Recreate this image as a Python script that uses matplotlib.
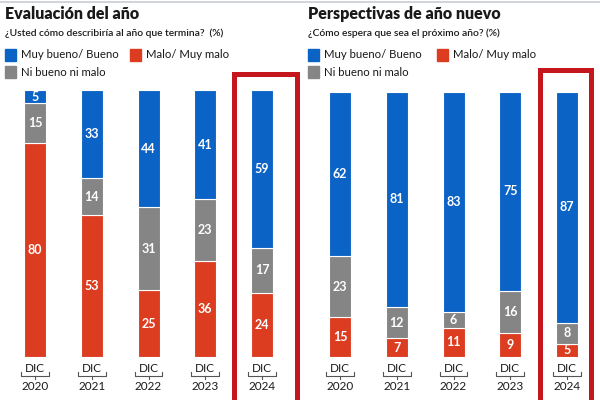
import matplotlib.pyplot as plt
import matplotlib.transforms as mtransforms
from matplotlib.patches import Rectangle

plt.rcParams['font.family'] = ['Lato', 'DejaVu Sans']

# Data
years = ['2020', '2021', '2022', '2023', '2024']
eval_bueno = [5, 33, 44, 41, 59]
eval_ni = [15, 14, 31, 23, 17]
eval_malo = [80, 53, 25, 36, 24]
persp_bueno = [62, 81, 83, 75, 87]
persp_ni = [23, 12, 6, 16, 8]
persp_malo = [15, 7, 11, 9, 5]

BLUE = '#0b63c6'
RED = '#dc3d21'
GRAY = '#858585'
FRAME = '#c4161c'
TEXT = '#1a1a1a'

W, H = 600, 400
STEP = 56.75  # px between bars

fig = plt.figure(figsize=(6, 4), dpi=100)
fig.patch.set_facecolor('white')


def fx(x):
    return x / W


def fy(y):
    return 1 - y / H


def header(x0, title, subtitle, leg2_x):
    fig.text(fx(x0), fy(14), title, fontsize=11.5, fontweight='heavy',
             color=TEXT, va='center', ha='left')
    fig.text(fx(x0), fy(33), subtitle, fontsize=7.4, fontweight='semibold',
             color=TEXT, va='center', ha='left')
    items = [(x0, 55, BLUE, 'Muy bueno/ Bueno'),
             (leg2_x, 55, RED, 'Malo/ Muy malo'),
             (x0, 72, GRAY, 'Ni bueno ni malo')]
    for lx, ly, col, lab in items:
        fig.patches.append(Rectangle((fx(lx), fy(ly + 6)), 11 / W, 12 / H,
                                     transform=fig.transFigure, color=col))
        fig.text(fx(lx + 16), fy(ly), lab, fontsize=8.2, color=TEXT,
                 va='center', ha='left')


def panel(first_px, top_px, bottom_px, malo, ni, bueno, frame_l, frame_r, frame_top):
    ax = fig.add_axes([fx(first_px - STEP / 2), fy(bottom_px),
                       5 * STEP / W, (bottom_px - top_px) / H])
    x = list(range(len(years)))
    bw = 22 / STEP
    bot2 = [m + n for m, n in zip(malo, ni)]
    for vals, bottoms, col in [(malo, [0] * 5, RED), (ni, malo, GRAY), (bueno, bot2, BLUE)]:
        ax.bar(x, vals, bottom=bottoms, width=bw, color=col,
               edgecolor='white', linewidth=0.8)
        for i, (v, b) in enumerate(zip(vals, bottoms)):
            ax.text(i, b + v / 2, str(v), ha='center', va='center',
                    color='white', fontsize=9, fontweight='bold')
    ax.set_xlim(-0.5, 4.5)
    ax.set_ylim(0, 100)
    ax.axis('off')

    trans = mtransforms.blended_transform_factory(ax.transData, fig.transFigure)
    for i, yr in enumerate(years):
        ax.text(i, fy(369), 'DIC', transform=trans, ha='center', va='center',
                fontsize=8.5, color=TEXT)
        ax.text(i, fy(387), yr, transform=trans, ha='center', va='center',
                fontsize=8.5, color=TEXT)
        ax.plot([i - 0.245, i - 0.245, i + 0.245, i + 0.245],
                [fy(372), fy(376), fy(376), fy(372)], transform=trans,
                color='#555555', lw=0.8, clip_on=False)
        ax.plot([i, i], [fy(376), fy(379)], transform=trans,
                color='#555555', lw=0.8, clip_on=False)

    # highlight frame around last year
    last = len(years) - 1
    ax.add_patch(Rectangle((last + frame_l, fy(420)), frame_r - frame_l,
                           fy(frame_top) - fy(420), transform=trans,
                           fill=False, edgecolor=FRAME, lw=3.6, clip_on=False))
    return ax


header(5, 'Evaluación del año',
       '¿Usted cómo describiría al año que termina?  (%)', 130)
header(308, 'Perspectivas de año nuevo',
       '¿Cómo espera que sea el próximo año? (%)', 437)

panel(35, 90, 357, eval_malo, eval_ni, eval_bueno, -0.49, 0.625, 74)
panel(340, 92, 357, persp_malo, persp_ni, persp_bueno, -0.476, 0.43, 70)

# thin top rule
fig.add_artist(plt.Line2D([0, 1], [fy(2), fy(2)], transform=fig.transFigure,
                          color='#c8ccd4', lw=1.2))

fig.savefig('out.png', dpi=100)
